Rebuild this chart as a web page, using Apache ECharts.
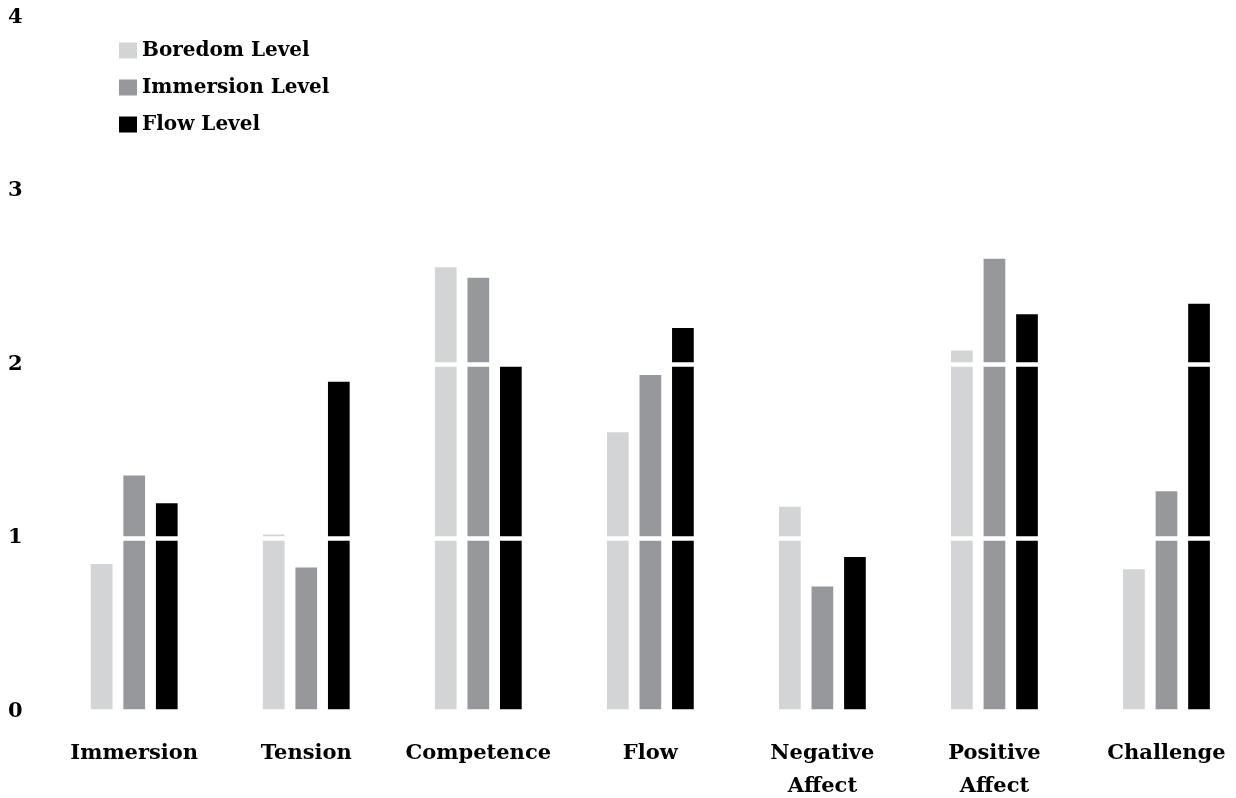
<!DOCTYPE html>
<html>
<head>
<meta charset="utf-8">
<script src="https://cdn.jsdelivr.net/npm/echarts@6/dist/echarts.min.js"></script>
<style>
html,body{margin:0;padding:0;background:#fff;}
#chart{width:1236px;height:798px;}
</style>
</head>
<body>
<div id="chart"></div>
<script>
const categories = ['Immersion', 'Tension', 'Competence', 'Flow', 'Negative\nAffect', 'Positive\nAffect', 'Challenge'];
const boredomLevel = [0.85, 1.02, 2.56, 1.61, 1.18, 2.08, 0.82];
const immersionLevel = [1.36, 0.83, 2.50, 1.94, 0.72, 2.61, 1.27];
const flowLevel = [1.20, 1.90, 2.00, 2.21, 0.89, 2.29, 2.35];
const yTicks = [0, 1, 2, 3, 4];

const FONT = 'DejaVu Serif';
const chart = echarts.init(document.getElementById('chart'));
chart.setOption({
  animation: false,
  backgroundColor: '#ffffff',
  grid: { left: 48.2, right: -16.5, top: 17.5, bottom: 86.5, containLabel: false, outerBoundsMode: 'none' },
  legend: {
    orient: 'vertical',
    left: 114,
    top: 35,
    itemWidth: 18,
    itemHeight: 16,
    itemGap: 16,
    icon: 'rect',
    textStyle: { fontFamily: FONT, fontWeight: 'bold', fontSize: 20, color: '#000', lineHeight: 21, padding: [0, 0, 0, 0] },
    data: ['Boredom Level', 'Immersion Level', 'Flow Level']
  },
  xAxis: {
    type: 'category',
    data: categories,
    axisLine: { show: false },
    axisTick: { show: false },
    axisLabel: { interval: 0, margin: 26, fontFamily: FONT, fontWeight: 'bold', fontSize: 21, color: '#000', lineHeight: 33 }
  },
  yAxis: {
    type: 'value',
    min: yTicks[0],
    max: yTicks[yTicks.length - 1],
    interval: 1,
    z: 5,
    axisLine: { show: false },
    axisTick: { show: false },
    axisLabel: { margin: 25.5, fontFamily: FONT, fontWeight: 'bold', fontSize: 21, color: '#000' },
    splitLine: { show: true, lineStyle: { color: '#ffffff', width: 4.5 } }
  },
  series: [
    { name: 'Boredom Level', type: 'bar', data: boredomLevel, barWidth: 21.7, barGap: '50%', itemStyle: { color: '#d3d4d6' } },
    { name: 'Immersion Level', type: 'bar', data: immersionLevel, barWidth: 21.7, barGap: '50%', itemStyle: { color: '#97989c' } },
    { name: 'Flow Level', type: 'bar', data: flowLevel, barWidth: 21.7, barGap: '50%', itemStyle: { color: '#000000' } }
  ]
});
</script>
</body>
</html>
